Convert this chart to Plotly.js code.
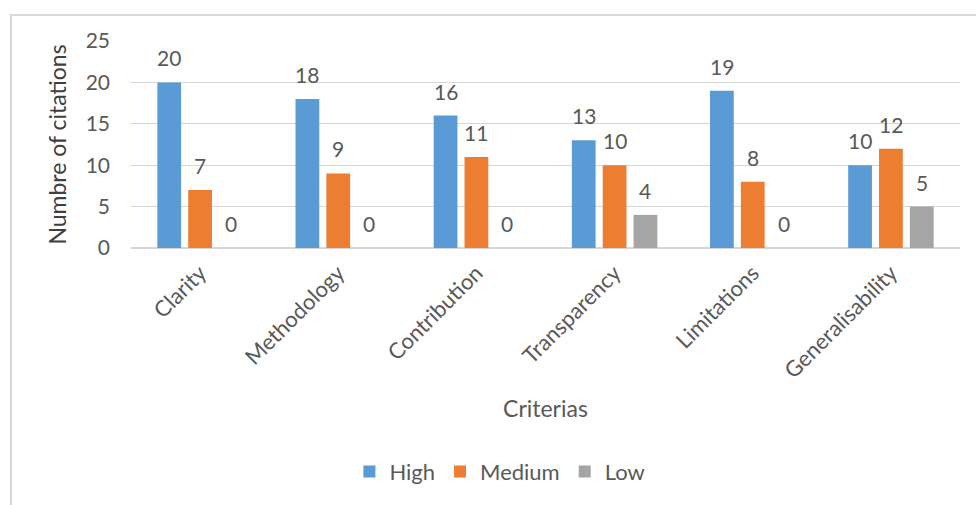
<!DOCTYPE html>
<html>
<head>
<meta charset="utf-8">
<script src="https://cdn.plot.ly/plotly-3.0.1.min.js"></script>
<style>
html,body{margin:0;padding:0;background:#fff;}
#frame{position:absolute;left:10px;top:14px;width:990px;height:520px;border:2px solid #d9d9d9;box-sizing:border-box;}
#chart{position:absolute;left:0;top:0;width:976px;height:505px;}
</style>
</head>
<body>
<div id="frame"></div>
<div id="chart"></div>
<script>
const categories = ["Clarity", "Methodology", "Contribution", "Transparency", "Limitations", "Generalisability"];
const highValues = [20, 18, 16, 13, 19, 10];
const mediumValues = [7, 9, 11, 10, 8, 12];
const lowValues = [0, 0, 0, 4, 0, 5];
const seriesNames = ["High", "Medium", "Low"];
const colors = ["#5b9bd5", "#ed7d31", "#a5a5a5"];

const font = "Lato, 'Open Sans', sans-serif";
const textColor = "#595959";

const W = 976, H = 505;
const margin = {l: 131, r: 16, t: 41, b: 255};
const bargap = 0.33, bargroupgap = 0.23;
const series = [highValues, mediumValues, lowValues];

const traces = series.map((vals, i) => ({
  type: "bar",
  name: seriesNames[i],
  x: categories,
  y: vals,
  marker: {color: colors[i]},
  hoverinfo: "none"
}));

// data labels as annotations, offset to each grouped bar's slot
const catPx = (W - margin.l - margin.r) / categories.length;
const slotPx = catPx * (1 - bargap) / series.length;
const annotations = [];
series.forEach((vals, i) => {
  vals.forEach((v, j) => {
    annotations.push({
      x: categories[j], y: v, xref: "x", yref: "y",
      text: String(v), showarrow: false,
      xanchor: "center", yanchor: "bottom",
      xshift: (i - (series.length - 1) / 2) * slotPx,
      yshift: 10,
      font: {family: font, size: 21, color: textColor}
    });
  });
});

const layout = {
  width: W,
  height: H,
  margin: margin,
  paper_bgcolor: "rgba(0,0,0,0)",
  plot_bgcolor: "rgba(0,0,0,0)",
  barmode: "group",
  bargap: bargap,
  bargroupgap: bargroupgap,
  font: {family: font, size: 21, color: textColor},
  annotations: annotations,
  xaxis: {
    tickangle: -45,
    tickfont: {family: font, size: 22, color: textColor},
    showline: false,
    ticks: "",
    ticklabelstandoff: 7,
    title: {text: "Criterias", font: {family: font, size: 23, color: textColor}, standoff: 18}
  },
  yaxis: {
    range: [0, 25],
    dtick: 5,
    showgrid: true,
    gridcolor: "#d6d6d6",
    gridwidth: 1.3,
    zeroline: true,
    zerolinecolor: "#d6d6d6",
    zerolinewidth: 1.3,
    showline: false,
    ticks: "",
    ticklabelstandoff: 20,
    tickfont: {family: font, size: 21, color: textColor},
    title: {text: "Numbre of citations", font: {family: font, size: 23, color: "#404040"}, standoff: 12}
  },
  showlegend: true,
  legend: {
    orientation: "h",
    x: 0.445,
    xanchor: "center",
    y: -1.081,
    yanchor: "middle",
    font: {family: font, size: 22, color: textColor},
    itemwidth: 30,
    tracegroupgap: 0
  }
};

Plotly.newPlot("chart", traces, layout, {displayModeBar: false, staticPlot: true});
</script>
</body>
</html>
